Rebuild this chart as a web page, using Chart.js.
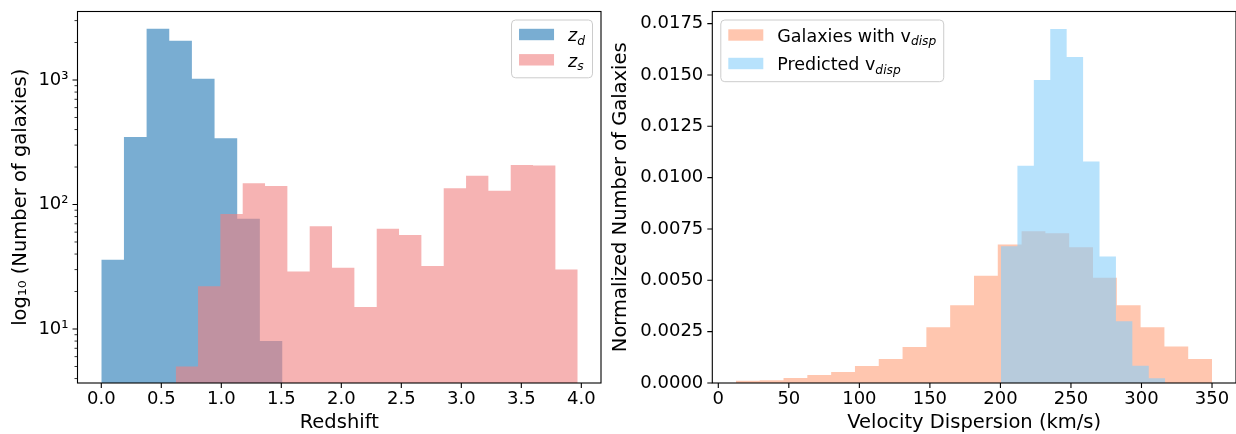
<!DOCTYPE html>
<html>
<head>
<meta charset="utf-8">
<title>Redshift and velocity dispersion histograms</title>
<script src="https://cdn.jsdelivr.net/npm/chart.js@4.4.1/dist/chart.umd.min.js"></script>
<style>
  html, body { margin: 0; padding: 0; background: #fff; }
  #wrap { position: relative; width: 1236px; height: 434px; overflow: hidden; }
  canvas { position: absolute; top: 0; }
  #redshift { left: 0; }
  #vdisp { left: 604px; }
</style>
</head>
<body>
<div id="wrap">
  <canvas id="redshift" width="604" height="434"></canvas>
  <canvas id="vdisp" width="632" height="434"></canvas>
</div>
<script>
// Left panel: deflector (z_d) and source (z_s) redshifts, counts per bin
const zdRange = [0.0, 1.51];
const zdCounts = [36, 349, 2580, 2070, 1025, 341, 77, 8];
const zsRange = [0.62, 3.97];
const zsCounts = [5, 22, 84, 148, 141, 29, 67, 31, 15, 64, 57, 32, 135, 170, 129, 208, 206, 30];
const redshiftTicks = [0, 0.5, 1.0, 1.5, 2.0, 2.5, 3.0, 3.5, 4.0];
const countTicks = [10, 100, 1000];

// Right panel: velocity dispersion, density-normalised
const vMeasuredRange = [12.5, 350];
const vMeasuredDensity = [0.00011, 0.00013, 0.00024, 0.00039, 0.00053, 0.00083, 0.00117, 0.00175,
  0.00272, 0.00378, 0.00522, 0.00674, 0.00739, 0.00729, 0.00661, 0.00512, 0.00379, 0.00272,
  0.00178, 0.00117];
const vPredictedRange = [200.4, 316.8];
const vPredictedDensity = [0.00666, 0.01058, 0.01476, 0.01724, 0.01588, 0.01078, 0.00616,
  0.00301, 0.00084, 0.00023];
const velocityTicks = [0, 50, 100, 150, 200, 250, 300, 350];
const densityTicks = [0, 0.0025, 0.005, 0.0075, 0.01, 0.0125, 0.015, 0.0175];

const FONT = 'DejaVu Sans';
const SUP = ['\u2070', '\u00b9', '\u00b2', '\u00b3'];

function binEdges(range, n) {
  const w = (range[1] - range[0]) / n;
  const edges = [];
  for (let i = 0; i <= n; i++) edges.push(range[0] + i * w);
  return edges;
}

// histogram as a stepped outline: each value holds from its left edge to the next one
function stepPoints(range, values) {
  const edges = binEdges(range, values.length);
  const pts = values.map((v, i) => ({ x: edges[i], y: v }));
  pts.push({ x: edges[values.length], y: values[values.length - 1] });
  return pts;
}

function histDataset(label, range, values, color, order) {
  return {
    label: label,
    data: stepPoints(range, values),
    stepped: true,
    fill: 'start',
    backgroundColor: color,
    borderColor: 'rgba(0,0,0,0)',
    borderWidth: 0,
    pointRadius: 0,
    pointHoverRadius: 0,
    order: order
  };
}

// spines and outward tick marks (minor ones only on the log axis)
const frame = {
  id: 'frame',
  afterDatasetsDraw(chart, args, opts) {
    const { ctx, chartArea: a, scales } = chart;
    ctx.save();
    ctx.strokeStyle = '#000';
    ctx.lineWidth = 1.1;
    ctx.beginPath();
    scales.x.ticks.forEach(t => {
      const px = scales.x.getPixelForValue(t.value);
      ctx.moveTo(px, a.bottom);
      ctx.lineTo(px, a.bottom + 5);
    });
    scales.y.ticks.forEach(t => {
      const py = scales.y.getPixelForValue(t.value);
      ctx.moveTo(a.left, py);
      ctx.lineTo(a.left - 5, py);
    });
    ctx.stroke();
    if (opts.minorY) {
      ctx.lineWidth = 0.8;
      ctx.beginPath();
      opts.minorY.forEach(v => {
        const py = scales.y.getPixelForValue(v);
        ctx.moveTo(a.left, py);
        ctx.lineTo(a.left - 3, py);
      });
      ctx.stroke();
    }
    ctx.lineWidth = 1.1;
    ctx.strokeRect(a.left, a.top, a.right - a.left, a.bottom - a.top);
    ctx.restore();
  }
};

// legend with mathtext-like subscripts
const mathLegend = {
  id: 'mathLegend',
  afterDraw(chart, args, opts) {
    const { ctx, chartArea: a } = chart;
    const fs = opts.fontSize;
    const subFs = fs * 0.7;
    const fontFor = p => (p.italic ? 'oblique ' : '') + (p.sub ? subFs : fs) + 'px "' + FONT + '"';
    ctx.save();
    const widths = opts.items.map(it => it.parts.reduce((w, p) => {
      ctx.font = fontFor(p);
      return w + ctx.measureText(p.text).width;
    }, 0));
    const padX = 7.5, handle = 35, gap = 14;
    const boxW = padX + handle + gap + Math.max(...widths) + padX;
    const boxH = opts.padTop + opts.rowGap * (opts.items.length - 1) + opts.padBottom;
    const top = a.top + 8.5;
    const left = opts.align === 'right' ? a.right - 8.5 - boxW : a.left + 8.5;

    ctx.beginPath();
    ctx.roundRect(left, top, boxW, boxH, 4);
    ctx.fillStyle = 'rgba(255,255,255,0.8)';
    ctx.fill();
    ctx.strokeStyle = '#cccccc';
    ctx.lineWidth = 1;
    ctx.stroke();

    opts.items.forEach((it, i) => {
      const cy = top + opts.padTop + i * opts.rowGap;
      ctx.fillStyle = it.color;
      ctx.fillRect(left + padX, cy - 5.7, handle, 11.4);
      let x = left + padX + handle + gap;
      const base = cy + 6.8;
      ctx.fillStyle = '#000';
      ctx.textBaseline = 'alphabetic';
      ctx.textAlign = 'left';
      it.parts.forEach(p => {
        ctx.font = fontFor(p);
        ctx.fillText(p.text, x, p.sub ? base + 3.5 : base);
        x += ctx.measureText(p.text).width;
      });
    });
    ctx.restore();
  }
};

const tickFont = { family: FONT, size: 18 };
const titleFont = { family: FONT, size: 19.5, lineHeight: 1.2 };

function xAxis(min, max, ticks, fmt, title) {
  return {
    type: 'linear',
    min: min,
    max: max,
    grid: { display: false, drawTicks: false },
    border: { display: false },
    ticks: { font: tickFont, color: '#000', padding: 6, maxRotation: 0, autoSkip: false, callback: fmt },
    afterBuildTicks: s => { s.ticks = ticks.map(v => ({ value: v })); },
    afterFit: s => { s.height = 51; s.paddingLeft = 0; s.paddingRight = 0; },
    title: { display: true, text: title, font: titleFont, color: '#000', padding: { top: 0, bottom: -1 } }
  };
}

const minorCountTicks = [];
[1, 10, 100, 1000].forEach(d => {
  for (let m = 2; m <= 9; m++) if (d * m > 3.68 && d * m < 3550) minorCountTicks.push(d * m);
});

new Chart(document.getElementById('redshift'), {
  type: 'line',
  data: {
    datasets: [
      histDataset('z_d', zdRange, zdCounts, 'rgba(31,119,180,0.6)', 1),
      histDataset('z_s', zsRange, zsCounts, 'rgba(240,128,128,0.6)', 0)
    ]
  },
  options: {
    responsive: false,
    animation: false,
    devicePixelRatio: 1,
    layout: { padding: { top: 11.5, right: 3, bottom: 0, left: 0 } },
    plugins: {
      legend: { display: false },
      tooltip: { enabled: false },
      frame: { minorY: minorCountTicks },
      mathLegend: {
        align: 'right', fontSize: 17.5, padTop: 14.5, rowGap: 25.3, padBottom: 18,
        items: [
          { color: 'rgba(31,119,180,0.6)', parts: [{ text: 'z', italic: true }, { text: 'd', italic: true, sub: true }] },
          { color: 'rgba(240,128,128,0.6)', parts: [{ text: 'z', italic: true }, { text: 's', italic: true, sub: true }] }
        ]
      }
    },
    scales: {
      x: xAxis(-0.1983, 4.164, redshiftTicks, v => v.toFixed(1), 'Redshift'),
      y: {
        type: 'logarithmic',
        min: 3.684,
        max: 3550,
        grid: { display: false, drawTicks: false },
        border: { display: false },
        ticks: {
          font: tickFont, color: '#000', padding: 9, autoSkip: false,
          callback: v => '10' + SUP[Math.round(Math.log10(v))]
        },
        afterBuildTicks: s => { s.ticks = countTicks.map(v => ({ value: v })); },
        afterFit: s => { s.width = 77.5; s.paddingTop = 0; s.paddingBottom = 0; },
        title: { display: true, text: 'log\u2081\u2080 (Number of galaxies)', font: titleFont, color: '#000', padding: { top: 9.1, bottom: 0 } }
      }
    }
  },
  plugins: [frame, mathLegend]
});

new Chart(document.getElementById('vdisp'), {
  type: 'line',
  data: {
    datasets: [
      histDataset('Galaxies with v_disp', vMeasuredRange, vMeasuredDensity, 'rgba(255,160,122,0.6)', 1),
      histDataset('Predicted v_disp', vPredictedRange, vPredictedDensity, 'rgba(135,206,250,0.6)', 0)
    ]
  },
  options: {
    responsive: false,
    animation: false,
    devicePixelRatio: 1,
    layout: { padding: { top: 11.5, right: 0, bottom: 0, left: 0 } },
    plugins: {
      legend: { display: false },
      tooltip: { enabled: false },
      frame: {},
      mathLegend: {
        align: 'left', fontSize: 17.5, padTop: 15, rowGap: 28.5, padBottom: 18.2,
        items: [
          { color: 'rgba(255,160,122,0.6)', parts: [{ text: 'Galaxies with v' }, { text: 'disp', italic: true, sub: true }] },
          { color: 'rgba(135,206,250,0.6)', parts: [{ text: 'Predicted v' }, { text: 'disp', italic: true, sub: true }] }
        ]
      }
    },
    scales: {
      x: xAxis(-4.25, 367.0, velocityTicks, v => String(v), 'Velocity Dispersion (km/s)'),
      y: {
        type: 'linear',
        min: 0,
        max: 0.01809,
        grid: { display: false, drawTicks: false },
        border: { display: false },
        ticks: { font: tickFont, color: '#000', padding: 9, autoSkip: false, callback: v => v.toFixed(4) },
        afterBuildTicks: s => { s.ticks = densityTicks.map(v => ({ value: v })); },
        afterFit: s => { s.width = 108.3; s.paddingTop = 0; s.paddingBottom = 0; },
        title: { display: true, text: 'Normalized Number of Galaxies', font: titleFont, color: '#000', padding: { top: 5.7, bottom: 0 } }
      }
    }
  },
  plugins: [frame, mathLegend]
});
</script>
</body>
</html>
